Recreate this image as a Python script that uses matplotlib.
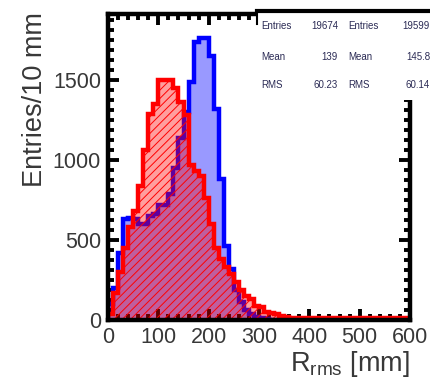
import numpy as np
import matplotlib
matplotlib.use("Agg")
import matplotlib.pyplot as plt
from matplotlib.ticker import MultipleLocator
from matplotlib.patches import Rectangle
from matplotlib.lines import Line2D

plt.rcParams['font.family'] = ['Liberation Sans', 'DejaVu Sans']
plt.rcParams['mathtext.fontset'] = 'custom'
plt.rcParams['mathtext.rm'] = 'Liberation Sans'
plt.rcParams['hatch.linewidth'] = 0.7

# 10 mm bins from 0 to 600 mm
bin_edges = np.arange(0, 610, 10)

blue_counts = [100, 200, 420, 630, 640, 630, 600, 600, 650, 660,
               720, 720, 790, 950, 1140, 1300, 1490, 1740, 1760, 1760,
               1650, 1320, 880, 460, 320, 190, 110, 60, 40, 20,
               10, 5, 3, 2, 1, 0, 0, 0, 0, 0,
               0, 0, 0, 0, 0, 0, 0, 0, 0, 0,
               0, 0, 0, 0, 0, 0, 0, 0, 0, 0]

red_counts = [40, 170, 300, 450, 580, 680, 840, 1060, 1290, 1350,
              1500, 1500, 1500, 1450, 1360, 1280, 970, 930, 900, 760,
              600, 450, 380, 330, 290, 240, 190, 150, 130, 90,
              80, 50, 45, 40, 25, 20, 12, 12, 12, 12,
              12, 12, 12, 12, 12, 12, 12, 12, 12, 12,
              12, 12, 12, 12, 12, 12, 12, 12, 12, 12]

stats_blue = [("Entries", "19674"), ("Mean", "139"), ("RMS", "60.23")]
stats_red = [("Entries", "19599"), ("Mean", "145.8"), ("RMS", "60.14")]

W, H = 431, 379
fig = plt.figure(figsize=(W / 100, H / 100), dpi=100)
ax = fig.add_axes([108 / W, (H - 320) / H, (410 - 108) / W, (320 - 14) / H])

text_col = '#383838'

# blue: light solid fill + thick outline
ax.stairs(blue_counts, bin_edges, fill=True, facecolor='#0000ff', alpha=0.4,
          linewidth=0, zorder=1)
ax.stairs(blue_counts, bin_edges, color='#0000ff', linewidth=3.2, zorder=3)
# red: hatched translucent fill + thick outline
ax.stairs(red_counts, bin_edges, fill=True, facecolor=(1, 0, 0, 0.38),
          edgecolor='#ff0000', hatch='////', linewidth=0, zorder=3.2)
ax.stairs(red_counts, bin_edges, color='#ff0000', linewidth=3.2, zorder=3.5)

ax.set_xlim(0, 600)
ax.set_ylim(0, 1912)
ax.xaxis.set_major_locator(MultipleLocator(100))
ax.xaxis.set_minor_locator(MultipleLocator(20))
ax.yaxis.set_major_locator(MultipleLocator(500))
ax.yaxis.set_minor_locator(MultipleLocator(62.5))
ax.tick_params(which='both', direction='in', top=True, right=True,
               colors='black', labelcolor=text_col, labelsize=15.5)
ax.tick_params(which='major', length=8, width=2.8, pad=5)
ax.tick_params(which='minor', length=4, width=2.8)
for s in ax.spines.values():
    s.set_linewidth(3.2)
    s.set_zorder(4)

fig.text(35 / W, (H - 12) / H, 'Entries/10 mm', rotation=90, ha='center',
         va='top', fontsize=19.5, color=text_col)
fig.text(410 / W, 8 / H, r'R$_{\rm rms}$ [mm]', ha='right', va='baseline',
         fontsize=19.5, color=text_col)

# stats boxes
box_top, box_bot = 11, 100
fig.add_artist(Rectangle((257 / W, (H - box_bot) / H), 1 - 257 / W,
                         (box_bot - box_top) / H, transform=fig.transFigure,
                         facecolor='white', edgecolor='none', zorder=5))
fig.add_artist(Line2D([257 / W, 1], [(H - box_top) / H] * 2,
                      transform=fig.transFigure, color='black', lw=3, zorder=6))
fig.add_artist(Line2D([257 / W] * 2, [(H - box_top) / H, (H - 24) / H],
                      transform=fig.transFigure, color='black', lw=1.5, zorder=6))

stat_col = '#2b2b55'
rows_y = [26, 57, 85]
for (lab, val), yy in zip(stats_blue, rows_y):
    fig.text(261 / W, (H - yy) / H, lab, ha='left', va='center', fontsize=7,
             color=stat_col, zorder=7)
    fig.text(338 / W, (H - yy) / H, val, ha='right', va='center', fontsize=7,
             color=stat_col, zorder=7)
for (lab, val), yy in zip(stats_red, rows_y):
    fig.text(348 / W, (H - yy) / H, lab, ha='left', va='center', fontsize=7,
             color=stat_col, zorder=7)
    fig.text(430 / W, (H - yy) / H, val, ha='right', va='center', fontsize=7,
             color=stat_col, zorder=7)

fig.savefig('out.png', dpi=100)
